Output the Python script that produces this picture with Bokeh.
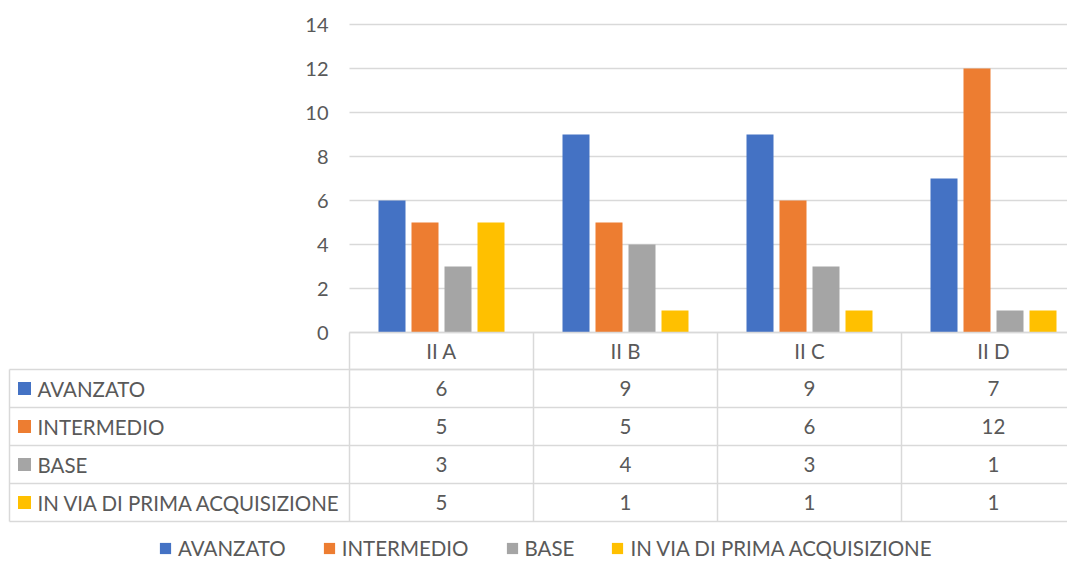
from bokeh.plotting import figure
from bokeh.models import Range1d, Legend, LegendItem
from bokeh.core.properties import value
from bokeh.embed import file_html
from bokeh.resources import INLINE

# ---------------- data ----------------
categories = ["II A", "II B", "II C", "II D"]
series_names = ["AVANZATO", "INTERMEDIO", "BASE", "IN VIA DI PRIMA ACQUISIZIONE"]
avanzato = [6, 9, 9, 7]
intermedio = [5, 5, 6, 12]
base = [3, 4, 3, 1]
in_via = [5, 1, 1, 1]
y_ticks = [0, 2, 4, 6, 8, 10, 12, 14]

series_values = [avanzato, intermedio, base, in_via]
colors = ["#4472C4", "#ED7D31", "#A5A5A5", "#FFC000"]

# ---------------- geometry ----------------
W, H = 1067, 560
PX = 184.0          # pixels per category
PY = 22.0           # pixels per value unit
ORIG_X = 349        # canvas x of category axis origin
ORIG_Y = 332        # canvas y of value 0


def dx(px):
    return (px - ORIG_X) / PX


def dy(py):
    return (ORIG_Y - py) / PY


FONT = "Lato"
FS = "20.5px"
TXT = "#595959"
GRID = "#d9d9d9"

p = figure(width=W, height=H, output_backend="svg", toolbar_location=None,
           x_range=Range1d(dx(0), dx(W)),
           y_range=Range1d(dy(H), dy(0)),
           x_axis_type=None, y_axis_type=None, min_border=0)
p.outline_line_color = None
p.grid.visible = False
p.background_fill_color = "white"
p.border_fill_color = "white"

ncat = len(categories)
right_end = dx(W + 5)

# gridlines (value axis)
p.segment(x0=[0] * len(y_ticks), x1=[right_end] * len(y_ticks),
          y0=y_ticks, y1=y_ticks, line_color=GRID, line_width=1.5)
# tick labels
p.text(x=[dx(328)] * len(y_ticks), y=y_ticks, text=[str(t) for t in y_ticks],
       text_font=value(FONT), text_font_size="20px", text_color=TXT,
       text_align="right", text_baseline="middle")

# bars
bar_w = 27 / PX
stride = 33 / PX
renderers = []
for k, (vals, col) in enumerate(zip(series_values, colors)):
    off = (k - 1.5) * stride
    r = p.vbar(x=[i + 0.5 + off for i in range(ncat)], top=vals, bottom=0,
               width=bar_w, fill_color=col, line_color=None)
    renderers.append(r)

# ---------------- data table ----------------
header_top, header_bot = 332, 369
row_h = 38
nrows = len(series_names)
row_tops = [header_bot + row_h * k for k in range(nrows + 1)]
table_left = 9

# horizontal lines
p.segment(x0=[0, 0], x1=[right_end] * 2, y0=[dy(header_top), dy(header_bot)],
          y1=[dy(header_top), dy(header_bot)], line_color=GRID, line_width=1.5)
p.segment(x0=[dx(table_left)] * (nrows + 1), x1=[right_end] * (nrows + 1),
          y0=[dy(t) for t in row_tops], y1=[dy(t) for t in row_tops],
          line_color=GRID, line_width=1.5)
# vertical lines
p.segment(x0=list(range(ncat)), x1=list(range(ncat)),
          y0=[dy(header_top)] * ncat, y1=[dy(row_tops[-1])] * ncat,
          line_color=GRID, line_width=1.5)
p.segment(x0=[dx(table_left)], x1=[dx(table_left)],
          y0=[dy(header_bot)], y1=[dy(row_tops[-1])],
          line_color=GRID, line_width=1.5)

# header labels
p.text(x=[i + 0.5 for i in range(ncat)], y=[dy((header_top + header_bot) / 2)] * ncat,
       text=categories, text_font=value(FONT), text_font_size=FS, text_color=TXT,
       text_align="center", text_baseline="middle")

# row labels, keys and values
for k, (name, vals, col) in enumerate(zip(series_names, series_values, colors)):
    yc = dy(row_tops[k] + row_h / 2)
    p.scatter(x=[dx(24)], y=[yc], marker="square", size=13, fill_color=col, line_color=None)
    p.text(x=[dx(37)], y=[yc], text=[name], text_font=value(FONT), text_font_size=FS,
           text_color=TXT, text_align="left", text_baseline="middle")
    p.text(x=[i + 0.5 for i in range(ncat)], y=[yc] * ncat, text=[str(v) for v in vals],
           text_font=value(FONT), text_font_size=FS, text_color=TXT,
           text_align="center", text_baseline="middle")

# ---------------- legend ----------------
legend = Legend(items=[LegendItem(label=n, renderers=[r]) for n, r in zip(series_names, renderers)],
                orientation="horizontal", location=(158, 0),
                glyph_width=14, glyph_height=14, label_standoff=6, spacing=36,
                padding=0, margin=0, border_line_color=None, background_fill_alpha=0,
                label_text_font=FONT, label_text_font_size=FS, label_text_color=TXT,
                label_height=18)
p.add_layout(legend)

open("out.html", "w").write(file_html(p, INLINE))
